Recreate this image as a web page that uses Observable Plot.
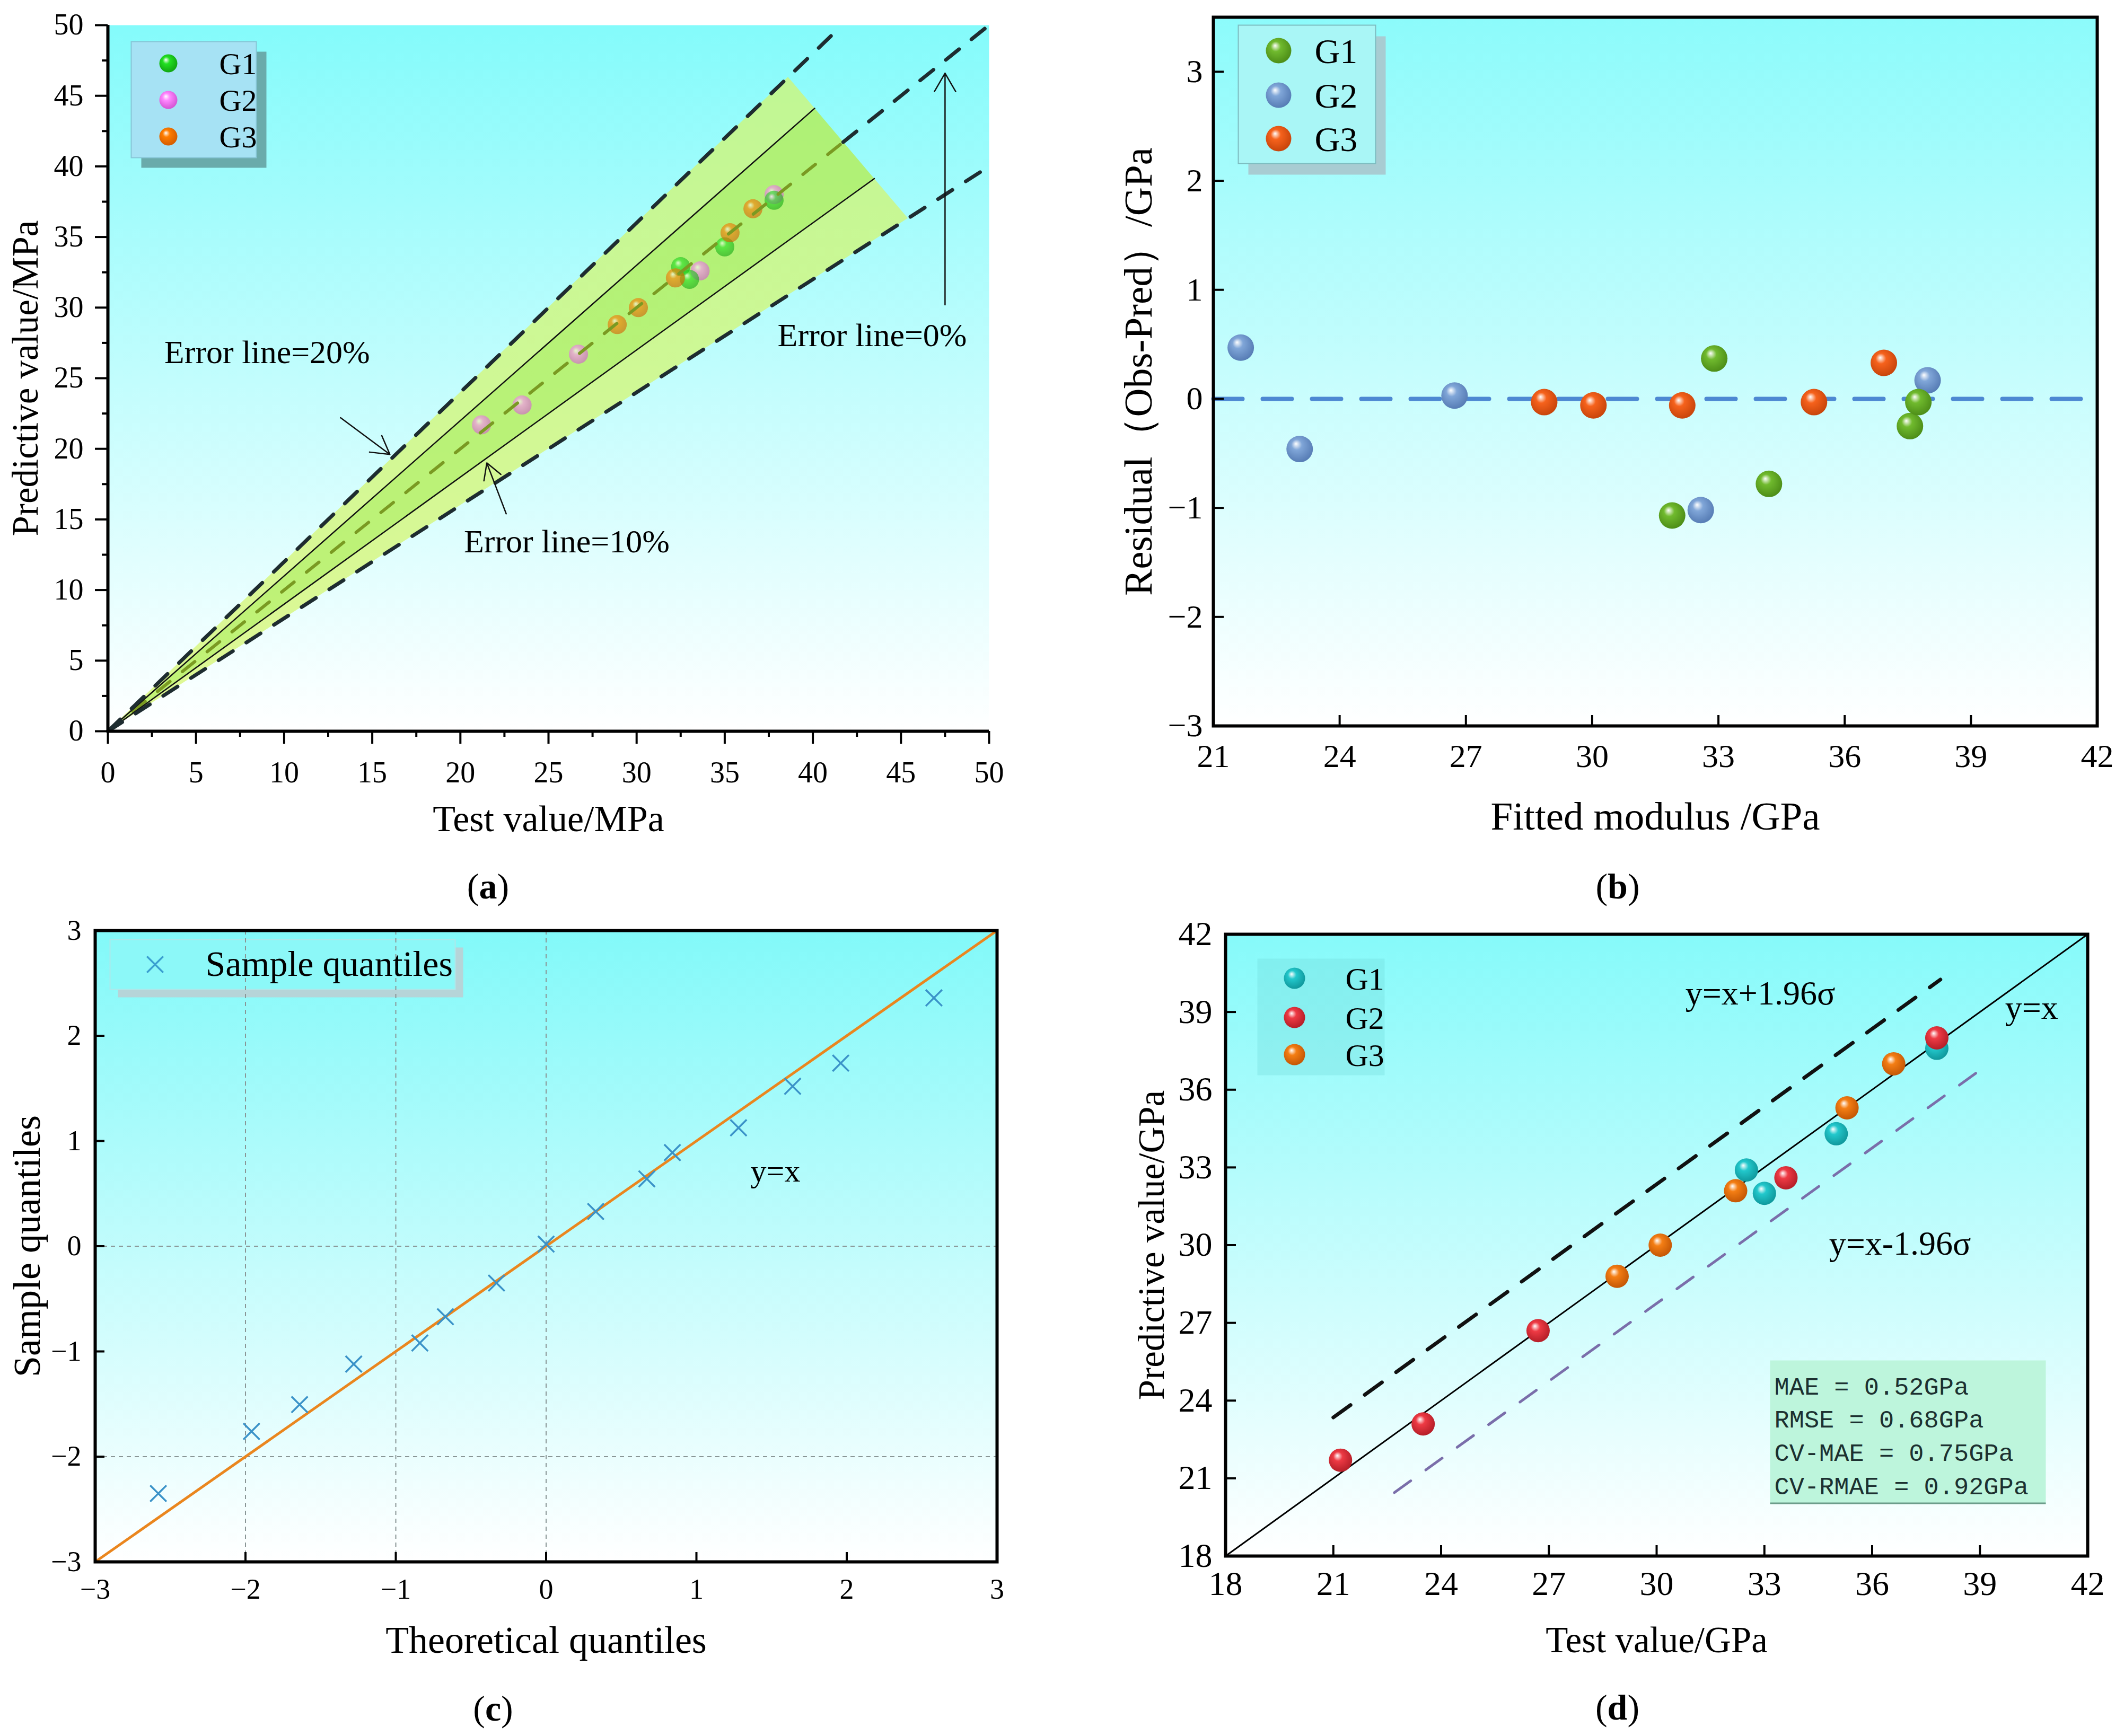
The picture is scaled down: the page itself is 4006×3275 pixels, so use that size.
<!DOCTYPE html>
<html><head><meta charset="utf-8">
<script src="https://cdn.jsdelivr.net/npm/d3@7"></script>
<script src="https://cdn.jsdelivr.net/npm/@observablehq/plot@0.6"></script>
<style>
html,body{margin:0;padding:0;background:#fff;}
#root{position:relative;width:4006px;height:3275px;background:#fff;overflow:hidden;}
</style></head><body><div id="root"></div>
<script>
// ---------------- data ----------------
// (a) & (d): test value vs predictive value, per group
const g1Test = [32.5, 33.0, 35.0, 37.8];
const g1Pred = [32.9, 32.0, 34.3, 37.6];
const g2Test = [21.2, 23.5, 26.7, 33.6, 37.8];
const g2Pred = [21.7, 23.1, 26.7, 32.6, 38.0];
const g3Test = [28.9, 30.1, 32.2, 35.3, 36.6];
const g3Pred = [28.8, 30.0, 32.1, 35.3, 37.0];
// (b): fitted modulus vs residual
const g1Fitted = [31.9, 32.9, 34.2, 37.55, 37.75];
const g1Resid  = [-1.07, 0.37, -0.78, -0.25, -0.03];
const g2Fitted = [21.65, 23.05, 26.73, 32.58, 37.97];
const g2Resid  = [0.47, -0.46, 0.03, -1.02, 0.17];
const g3Fitted = [28.86, 30.03, 32.14, 35.27, 36.93];
const g3Resid  = [-0.03, -0.06, -0.06, -0.03, 0.33];
// (c): Q-Q
const theoreticalQ = [-2.58, -1.96, -1.64, -1.28, -0.84, -0.67, -0.33, 0, 0.33, 0.67, 0.84, 1.28, 1.64, 1.96, 2.58];
const sampleQ      = [-2.35, -1.76, -1.505, -1.12, -0.92, -0.67, -0.35, 0.02, 0.33, 0.64, 0.89, 1.125, 1.52, 1.74, 2.36];
// ticks
const ticksA = [0, 5, 10, 15, 20, 25, 30, 35, 40, 45, 50];
const minorA = [2.5, 7.5, 12.5, 17.5, 22.5, 27.5, 32.5, 37.5, 42.5, 47.5];
const ticksBx = [21, 24, 27, 30, 33, 36, 39, 42];
const ticksBy = [-3, -2, -1, 0, 1, 2, 3];
const ticksC = [-3, -2, -1, 0, 1, 2, 3];
const gridCx = [-2, -1, 0];
const gridCy = [0, -2];
const ticksD = [18, 21, 24, 27, 30, 33, 36, 39, 42];
// (a) error wedge
const errorBands = [0.2, 0.1];
const wedgeCornerX = [38.6, 45.4];   // x where the +20% / -20% lines meet the wedge's far edge
// (d) 1.96 sigma lines
const sigmaOffsets = [2.35, -2.25];
const sigmaXStart = [21.0, 22.7];
const sigmaXEnd = [37.9, 38.9];
const statsLines = ["MAE = 0.52GPa", "RMSE = 0.68GPa", "CV-MAE = 0.75GPa", "CV-RMAE = 0.92GPa"];
const groupNames = ["G1", "G2", "G3"];
// annotations
const notesA = [
  {text: "Error line=20%", x: 3.2, y: 26.8},
  {text: "Error line=10%", x: 20.2, y: 13.4},
  {text: "Error line=0%", x: 38.0, y: 28.0}
];
const arrowsA = [
  {x1: 13.2, y1: 22.2, x2: 16.0, y2: 19.6},
  {x1: 22.6, y1: 15.4, x2: 21.5, y2: 19.0},
  {x1: 47.5, y1: 30.2, x2: 47.5, y2: 46.6}
];
const notesC = [{text: "y=x", x: 1.36, y: 0.71}];
const notesD = [
  {text: "y=x+1.96σ", x: 30.8, y: 39.7},
  {text: "y=x", x: 39.7, y: 39.15},
  {text: "y=x-1.96σ", x: 34.8, y: 30.05}
];

// ---------------- helpers ----------------
const SERIF = '"Liberation Serif","Times New Roman",serif';
const root = document.getElementById("root");
const fmt = d3.format("~g");
const zip = (xs, ys) => xs.map((x, i) => ({x, y: ys[i]}));
function ball(id, c, dark) {
  return `<radialGradient id="${id}" cx="0.45" cy="0.42" r="0.62" fx="0.36" fy="0.3">
    <stop offset="0" stop-color="#ffffff"/><stop offset="0.32" stop-color="${c}"/><stop offset="1" stop-color="${dark}"/></radialGradient>`;
}
function bg(id, top) {
  return `<linearGradient id="${id}" x1="0" y1="0" x2="0" y2="1"><stop offset="0" stop-color="${top}"/><stop offset="1" stop-color="#ffffff"/></linearGradient>`;
}
function place(svg, left, top, defs) {
  const d = document.createElementNS("http://www.w3.org/2000/svg", "defs");
  d.innerHTML = defs;
  svg.insertBefore(d, svg.firstChild);
  svg.style.position = "absolute";
  svg.style.left = left + "px";
  svg.style.top = top + "px";
  d3.select(svg).selectAll("text").filter(function () { return /^\([a-d]\)$/.test(this.textContent); })
    .each(function () { const c = this.textContent[1]; d3.select(this).html(`(<tspan font-weight="bold">${c}</tspan>)`); });
  root.appendChild(svg);
}
const boxMark = (fw, fh, l, t, w, h, o) =>
  Plot.frame({insetLeft: l, insetTop: t, insetRight: fw - l - w, insetBottom: fh - t - h, ...o});
const styleOf = () => ({background: "transparent", fontFamily: SERIF, overflow: "visible", maxWidth: "none", color: "#000"});

// ---------------- panel (a) ----------------
{
  const W = 2003, H = 1720, ml = 203, mr = 138, mt = 47, mb = 341;
  const fw = W - ml - mr, fh = H - mt - mb;
  const up = 1 + errorBands[0], lo = 1 - errorBands[0];
  const P1 = {x: wedgeCornerX[0], y: up * wedgeCornerX[0]};
  const P2 = {x: wedgeCornerX[1], y: lo * wedgeCornerX[1]};
  const hit = s => { const t = (s * P1.x - P1.y) / ((P2.y - P1.y) - s * (P2.x - P1.x)); return {x: P1.x + t * (P2.x - P1.x), y: P1.y + t * (P2.y - P1.y)}; };
  const u10 = hit(1 + errorBands[1]), l10 = hit(1 - errorBands[1]), c0 = hit(1);
  const outer = [{x: 0, y1: 0, y2: 0}, {x: P1.x, y1: lo * P1.x, y2: P1.y}, {x: P2.x, y1: P2.y, y2: P2.y}];
  const inner = [{x: 0, y1: 0, y2: 0}, {x: u10.x, y1: (1 - errorBands[1]) * u10.x, y2: u10.y}, {x: l10.x, y1: l10.y, y2: l10.y}];
  const lineUp = [{x: 0, y: 0}, {x: 50 / up, y: 50}];
  const lineLo = [{x: 0, y: 0}, {x: 50, y: 50 * lo}];
  const colors = [["#22e022", "#10a010"], ["#ff88ff", "#d050d0"], ["#ff7d00", "#d05a00"]];
  const marks = [
    Plot.frame({fill: "url(#bgA)", stroke: "none"}),
    Plot.areaY(outer, {x: "x", y1: "y1", y2: "y2", fill: "#d4f56c", fillOpacity: 0.72}),
    Plot.areaY(inner, {x: "x", y1: "y1", y2: "y2", fill: "#86e638", fillOpacity: 0.32}),
    Plot.dot(zip(g2Test, g2Pred), {x: "x", y: "y", r: 18, fill: "url(#ballA2)", fillOpacity: 0.6}),
    Plot.dot(zip(g1Test, g1Pred), {x: "x", y: "y", r: 18, fill: "url(#ballA1)", fillOpacity: 0.6}),
    Plot.dot(zip(g3Test, g3Pred), {x: "x", y: "y", r: 18, fill: "url(#ballA3)", fillOpacity: 0.6}),
    Plot.line([{x: 0, y: 0}, c0], {x: "x", y: "y", stroke: "#7a9a22", strokeWidth: 6, strokeDasharray: "30,30"}),
    Plot.line([c0, {x: 50, y: 50}], {x: "x", y: "y", stroke: "#1e2c30", strokeWidth: 7, strokeDasharray: "32,30"}),
    Plot.line([{x: 0, y: 0}, u10], {x: "x", y: "y", stroke: "#111", strokeWidth: 2.5}),
    Plot.line([{x: 0, y: 0}, l10], {x: "x", y: "y", stroke: "#111", strokeWidth: 2.5}),
    Plot.line(lineUp, {x: "x", y: "y", stroke: "#1e2c30", strokeWidth: 7, strokeDasharray: "32,30"}),
    Plot.line(lineLo, {x: "x", y: "y", stroke: "#1e2c30", strokeWidth: 7, strokeDasharray: "32,30"}),
    Plot.arrow(arrowsA, {x1: "x1", y1: "y1", x2: "x2", y2: "y2", stroke: "#111", strokeWidth: 2.5, headLength: 24}),
    Plot.text(notesA, {x: "x", y: "y", text: "text", textAnchor: "start", fontSize: 62, fill: "#000"}),
    // legend
    boxMark(fw, fh, 63, 50, 236, 219, {fill: "#6aabab", stroke: "none"}),
    boxMark(fw, fh, 44, 31, 236, 219, {fill: "#a6e2f4", stroke: "#86c6d6", strokeWidth: 2}),
    // axes
    Plot.axisY({ticks: ticksA, tickSize: 24, tickPadding: 22, strokeWidth: 4, fontSize: 56, tickFormat: fmt, label: null}),
    Plot.axisY({ticks: minorA, tickSize: 11, strokeWidth: 4, tickFormat: () => "", label: null}),
    Plot.axisX({ticks: ticksA, tickSize: 24, tickPadding: 33, strokeWidth: 4, fontSize: 56, tickFormat: fmt, label: null}),
    Plot.axisX({ticks: minorA, tickSize: 11, strokeWidth: 4, tickFormat: () => "", label: null}),
    Plot.ruleX([0], {stroke: "#000", strokeWidth: 6}),
    Plot.ruleY([0], {stroke: "#000", strokeWidth: 6}),
    Plot.text(["Test value/MPa"], {text: d => d, frameAnchor: "bottom", dy: 166, textAnchor: "middle", lineAnchor: "middle", fontSize: 70}),
    Plot.text(["Predictive value/MPa"], {text: d => d, frameAnchor: "left", dx: -155, rotate: -90, textAnchor: "middle", lineAnchor: "middle", fontSize: 69}),
    Plot.text(["(a)"], {text: d => d, frameAnchor: "bottom", dx: -114, dy: 294, textAnchor: "middle", lineAnchor: "middle", fontSize: 68})
  ];
  const legDy = [72, 141, 210];
  groupNames.forEach((g, i) => {
    marks.push(Plot.dot([g], {frameAnchor: "top-left", dx: 114, dy: legDy[i], r: 17, fill: `url(#ballA${i + 1})`}));
    marks.push(Plot.text([g], {text: d => d, frameAnchor: "top-left", dx: 210, dy: legDy[i] + 2, textAnchor: "start", lineAnchor: "middle", fontSize: 58}));
  });
  const svg = Plot.plot({width: W, height: H, marginLeft: ml, marginRight: mr, marginTop: mt, marginBottom: mb,
    x: {domain: [0, 50]}, y: {domain: [0, 50]}, style: styleOf(), marks});
  place(svg, 0, 0, bg("bgA", "#84fbfb") + colors.map((c, i) => ball(`ballA${i + 1}`, c[0], c[1])).join(""));
}

// ---------------- panel (b) ----------------
{
  const W = 2003, H = 1720, ml = 285, mr = 51, mt = 32, mb = 351;
  const fw = W - ml - mr, fh = H - mt - mb;
  const colors = [["#70ba2e", "#4a8a16"], ["#80a6d8", "#5379b2"], ["#f6621c", "#c4420a"]];
  const marks = [
    Plot.frame({fill: "url(#bgB)", stroke: "none"}),
    Plot.line([{x: ticksBx[0], y: 0}, {x: 41.75, y: 0}], {x: "x", y: "y", stroke: "#4d88d2", strokeWidth: 8, strokeDasharray: "55,38"}),
    Plot.dot(zip(g2Fitted, g2Resid), {x: "x", y: "y", r: 25, fill: "url(#ballB2)"}),
    Plot.dot(zip(g3Fitted, g3Resid), {x: "x", y: "y", r: 25, fill: "url(#ballB3)"}),
    Plot.dot(zip(g1Fitted, g1Resid), {x: "x", y: "y", r: 25, fill: "url(#ballB1)"}),
    boxMark(fw, fh, 66, 36, 259, 261, {fill: "#a8ccd2", stroke: "none"}),
    boxMark(fw, fh, 47, 15, 259, 261, {fill: "#a9f6f6", stroke: "#7cbcc0", strokeWidth: 2}),
    Plot.tickX(ticksBx, {x: d => d, insetTop: fh - 20, stroke: "#000", strokeWidth: 4}),
    Plot.tickY(ticksBy, {y: d => d, insetRight: fw - 20, stroke: "#000", strokeWidth: 4}),
    Plot.axisX({ticks: ticksBx, tickSize: 0, tickPadding: 33, fontSize: 62, tickFormat: fmt, label: null}),
    Plot.axisY({ticks: ticksBy, tickSize: 0, tickPadding: 20, fontSize: 62, tickFormat: fmt, label: null}),
    Plot.frame({stroke: "#000", strokeWidth: 6}),
    Plot.text(["Fitted modulus /GPa"], {text: d => d, frameAnchor: "bottom", dy: 171, textAnchor: "middle", lineAnchor: "middle", fontSize: 75}),
    Plot.text(["Residual（Obs-Pred）/GPa"], {text: d => d, frameAnchor: "left", dx: -141, rotate: -90, textAnchor: "middle", lineAnchor: "middle", fontSize: 75}),
    Plot.text(["(b)"], {text: d => d, frameAnchor: "bottom", dx: -71, dy: 304, textAnchor: "middle", lineAnchor: "middle", fontSize: 68})
  ];
  const legDy = [63, 147, 229];
  groupNames.forEach((g, i) => {
    marks.push(Plot.dot([g], {frameAnchor: "top-left", dx: 123, dy: legDy[i], r: 24, fill: `url(#ballB${i + 1})`}));
    marks.push(Plot.text([g], {text: d => d, frameAnchor: "top-left", dx: 191, dy: legDy[i] + 2, textAnchor: "start", lineAnchor: "middle", fontSize: 66}));
  });
  const svg = Plot.plot({width: W, height: H, marginLeft: ml, marginRight: mr, marginTop: mt, marginBottom: mb,
    x: {domain: [21, 42]}, y: {domain: [-3, 3.5]}, style: styleOf(), marks});
  place(svg, 2003, 0, bg("bgB", "#8cfbfb") + colors.map((c, i) => ball(`ballB${i + 1}`, c[0], c[1])).join(""));
}

// ---------------- panel (c) ----------------
{
  const W = 2003, H = 1555, ml = 179, mr = 123, mt = 35, mb = 329;
  const fw = W - ml - mr, fh = H - mt - mb;
  const marks = [
    Plot.frame({fill: "url(#bgC)", stroke: "none"}),
    boxMark(fw, fh, 43, 32, 651, 94, {fill: "#b6d4d8", stroke: "none"}),
    boxMark(fw, fh, 28, 17, 651, 94, {fill: "#8cf8f8", stroke: "#aee8ea", strokeWidth: 2}),
    Plot.ruleX(gridCx, {x: d => d, stroke: "#8a9696", strokeWidth: 2, strokeDasharray: "8,7"}),
    Plot.ruleY(gridCy, {y: d => d, stroke: "#8a9696", strokeWidth: 2, strokeDasharray: "8,7"}),
    Plot.line([{x: ticksC[0], y: ticksC[0]}, {x: ticksC[ticksC.length - 1], y: ticksC[ticksC.length - 1]}], {x: "x", y: "y", stroke: "#ea861e", strokeWidth: 5}),
    Plot.dot(zip(theoreticalQ, sampleQ), {x: "x", y: "y", symbol: "times", r: 14, stroke: "#3a92c8", strokeWidth: 3.5}),
    Plot.dot(["Sample quantiles"], {frameAnchor: "top-left", dx: 113, dy: 64, symbol: "times", r: 14, stroke: "#3a9fd0", strokeWidth: 3.5}),
    Plot.text(["Sample quantiles"], {text: d => d, frameAnchor: "top-left", dx: 208, dy: 64, textAnchor: "start", lineAnchor: "middle", fontSize: 68}),
    Plot.text(notesC, {x: "x", y: "y", text: "text", textAnchor: "start", fontSize: 60}),
    Plot.tickX(ticksC, {x: d => d, insetTop: fh - 18, stroke: "#000", strokeWidth: 4}),
    Plot.tickY(ticksC, {y: d => d, insetRight: fw - 18, stroke: "#000", strokeWidth: 4}),
    Plot.axisX({ticks: ticksC, tickSize: 0, tickPadding: 31, fontSize: 54, tickFormat: fmt, label: null}),
    Plot.axisY({ticks: ticksC, tickSize: 0, tickPadding: 26, fontSize: 54, tickFormat: fmt, label: null}),
    Plot.frame({stroke: "#000", strokeWidth: 6}),
    Plot.text(["Theoretical quantiles"], {text: d => d, frameAnchor: "bottom", dy: 148, textAnchor: "middle", lineAnchor: "middle", fontSize: 72}),
    Plot.text(["Sample quantiles"], {text: d => d, frameAnchor: "left", dx: -128, rotate: -90, textAnchor: "middle", lineAnchor: "middle", fontSize: 72}),
    Plot.text(["(c)"], {text: d => d, frameAnchor: "bottom", dx: -100, dy: 278, textAnchor: "middle", lineAnchor: "middle", fontSize: 68})
  ];
  const svg = Plot.plot({width: W, height: H, marginLeft: ml, marginRight: mr, marginTop: mt, marginBottom: mb,
    x: {domain: [-3, 3]}, y: {domain: [-3, 3]}, style: styleOf(), marks});
  place(svg, 0, 1720, bg("bgC", "#82f9f9"));
}

// ---------------- panel (d) ----------------
{
  const W = 2003, H = 1555, ml = 308, mr = 69, mt = 42, mb = 340;
  const fw = W - ml - mr, fh = H - mt - mb;
  const colors = [["#22c8cc", "#0e9498"], ["#ee3a44", "#b01c26"], ["#f47e14", "#c05404"]];
  const sig = sigmaOffsets.map((o, i) => [{x: sigmaXStart[i], y: sigmaXStart[i] + o}, {x: sigmaXEnd[i], y: sigmaXEnd[i] + o}]);
  const marks = [
    Plot.frame({fill: "url(#bgD)", stroke: "none"}),
    boxMark(fw, fh, 60, 46, 240, 220, {fill: "#6cd8d8", fillOpacity: 0.3, stroke: "none"}),
    boxMark(fw, fh, 1027, 804, 520, 271, {fill: "#bdf5dc", stroke: "none"}),
    boxMark(fw, fh, 1027, 1072, 520, 3, {fill: "#6c9c8a", stroke: "none"}),
    Plot.line([{x: ticksD[0], y: ticksD[0]}, {x: ticksD[ticksD.length - 1], y: ticksD[ticksD.length - 1]}], {x: "x", y: "y", stroke: "#000", strokeWidth: 3}),
    Plot.line(sig[0], {x: "x", y: "y", stroke: "#111", strokeWidth: 7, strokeDasharray: "40,33"}),
    Plot.line(sig[1], {x: "x", y: "y", stroke: "#7a6eaa", strokeWidth: 5, strokeDasharray: "38,35"}),
    Plot.dot(zip(g1Test, g1Pred), {x: "x", y: "y", r: 22, fill: "url(#ballD1)"}),
    Plot.dot(zip(g3Test, g3Pred), {x: "x", y: "y", r: 22, fill: "url(#ballD3)"}),
    Plot.dot(zip(g2Test, g2Pred), {x: "x", y: "y", r: 22, fill: "url(#ballD2)"}),
    Plot.text(notesD, {x: "x", y: "y", text: "text", textAnchor: "start", fontSize: 64}),
    Plot.tickX(ticksD, {x: d => d, insetTop: fh - 20, stroke: "#000", strokeWidth: 4}),
    Plot.tickY(ticksD, {y: d => d, insetRight: fw - 20, stroke: "#000", strokeWidth: 4}),
    Plot.axisX({ticks: ticksD, tickSize: 0, tickPadding: 28, fontSize: 64, tickFormat: fmt, label: null}),
    Plot.axisY({ticks: ticksD, tickSize: 0, tickPadding: 25, fontSize: 64, tickFormat: fmt, label: null}),
    Plot.frame({stroke: "#000", strokeWidth: 6}),
    Plot.text(["Test value/GPa"], {text: d => d, frameAnchor: "bottom", dy: 159, textAnchor: "middle", lineAnchor: "middle", fontSize: 69}),
    Plot.text(["Predictive value/GPa"], {text: d => d, frameAnchor: "left", dx: -139, rotate: -90, textAnchor: "middle", lineAnchor: "middle", fontSize: 69}),
    Plot.text(["(d)"], {text: d => d, frameAnchor: "bottom", dx: -74, dy: 287, textAnchor: "middle", lineAnchor: "middle", fontSize: 68})
  ];
  const legDy = [83, 157, 227];
  groupNames.forEach((g, i) => {
    marks.push(Plot.dot([g], {frameAnchor: "top-left", dx: 130, dy: legDy[i], r: 20, fill: `url(#ballD${i + 1})`}));
    marks.push(Plot.text([g], {text: d => d, frameAnchor: "top-left", dx: 226, dy: legDy[i] + 2, textAnchor: "start", lineAnchor: "middle", fontSize: 60}));
  });
  const statDy = [853, 915, 978, 1041];
  statsLines.forEach((s, i) => {
    marks.push(Plot.text([s], {text: d => d, frameAnchor: "top-left", dx: 1035, dy: statDy[i], textAnchor: "start", lineAnchor: "middle",
      fontSize: 47, fontFamily: '"Liberation Mono","DejaVu Sans Mono",monospace', fill: "#1c3030"}));
  });
  const svg = Plot.plot({width: W, height: H, marginLeft: ml, marginRight: mr, marginTop: mt, marginBottom: mb,
    x: {domain: [18, 42]}, y: {domain: [18, 42]}, style: styleOf(), marks});
  place(svg, 2003, 1720, bg("bgD", "#86fafa") + colors.map((c, i) => ball(`ballD${i + 1}`, c[0], c[1])).join(""));
}
</script></body></html>
